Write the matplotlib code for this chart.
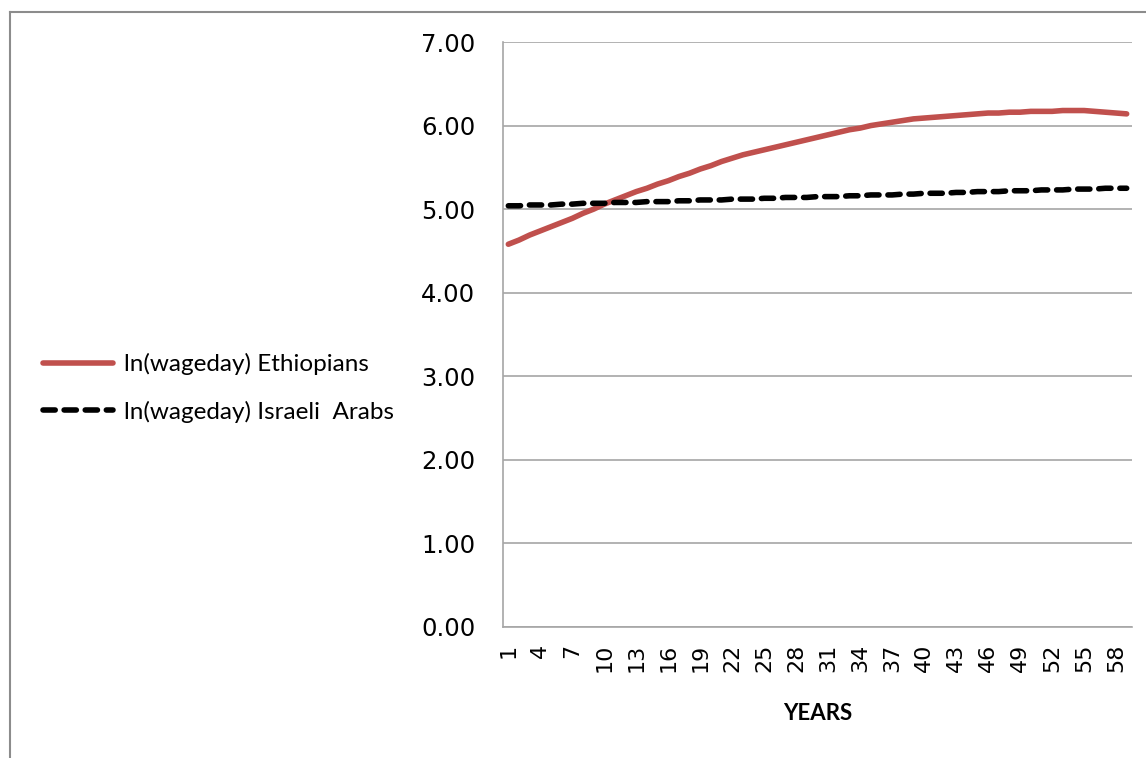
import matplotlib.pyplot as plt
from matplotlib.lines import Line2D

years = list(range(1, 60))
ethiopians = [4.58, 4.63, 4.69, 4.74, 4.79, 4.84, 4.89, 4.95, 5.00, 5.06,
              5.11, 5.16, 5.21, 5.25, 5.30, 5.34, 5.39, 5.43, 5.48, 5.52,
              5.57, 5.61, 5.65, 5.68, 5.71, 5.74, 5.77, 5.80, 5.83, 5.86,
              5.89, 5.92, 5.95, 5.97, 6.00, 6.02, 6.04, 6.06, 6.08, 6.09,
              6.10, 6.11, 6.12, 6.13, 6.14, 6.15, 6.15, 6.16, 6.16, 6.17,
              6.17, 6.17, 6.18, 6.18, 6.18, 6.17, 6.16, 6.15, 6.14]
arabs = [5.04, 5.04, 5.05, 5.05, 5.05, 5.06, 5.06, 5.07, 5.07, 5.07,
         5.08, 5.08, 5.08, 5.09, 5.09, 5.09, 5.10, 5.10, 5.11, 5.11,
         5.11, 5.12, 5.12, 5.12, 5.13, 5.13, 5.14, 5.14, 5.14, 5.15,
         5.15, 5.15, 5.16, 5.16, 5.17, 5.17, 5.17, 5.18, 5.18, 5.19,
         5.19, 5.19, 5.20, 5.20, 5.21, 5.21, 5.21, 5.22, 5.22, 5.22,
         5.23, 5.23, 5.23, 5.24, 5.24, 5.24, 5.25, 5.25, 5.25]
labels = ['ln(wageday) Ethiopians', 'ln(wageday) Israeli  Arabs']
yticks = [0, 1, 2, 3, 4, 5, 6, 7]

fig = plt.figure(figsize=(11.46, 7.58), dpi=100)
ax = fig.add_axes([503 / 1146, 1 - 627 / 758, 629 / 1146, 585 / 758])

red, = ax.plot(years, ethiopians, color='#c0504d', lw=4, solid_capstyle='round')
blk, = ax.plot(years, arabs, color='black', lw=4, linestyle=(0, (2.2, 1.6)),
               dash_capstyle='round')

ax.set_xlim(0.5, 59.5)
ax.set_ylim(0, 7)
ax.set_yticks(yticks)
ax.set_yticklabels(['%.2f' % v for v in yticks], fontsize=17.5, family='DejaVu Sans')
ax.set_xticks(years[::3])
ax.set_xticklabels([str(y) for y in years[::3]], rotation=90, fontsize=16,
                   family='DejaVu Sans')
ax.tick_params(axis='y', length=0, pad=20)
ax.tick_params(axis='x', length=0, pad=12)
ax.yaxis.grid(True, color='#a6a6a6', lw=1.2)
ax.set_axisbelow(True)
for s in ['top', 'right']:
    ax.spines[s].set_visible(False)
for s in ['left', 'bottom']:
    ax.spines[s].set_color('#a6a6a6')
    ax.spines[s].set_linewidth(1.2)

ax.set_xlabel('YEARS', fontsize=16, fontweight='bold', family='Lato', labelpad=22)

fig.legend([red, blk], labels, loc='center left', bbox_to_anchor=(0.018, 0.488),
           frameon=False, prop={'family': 'Lato', 'size': 17.5}, handlelength=2.9,
           handletextpad=0.45, labelspacing=1.05)

# chart border
fig.add_artist(Line2D([10 / 1146, 10 / 1146], [0, 1 - 12 / 758], color='#8c8c8c', lw=1.5))
fig.add_artist(Line2D([10 / 1146, 1], [1 - 12 / 758, 1 - 12 / 758], color='#8c8c8c', lw=1.5))

fig.savefig('out.png', dpi=100)
